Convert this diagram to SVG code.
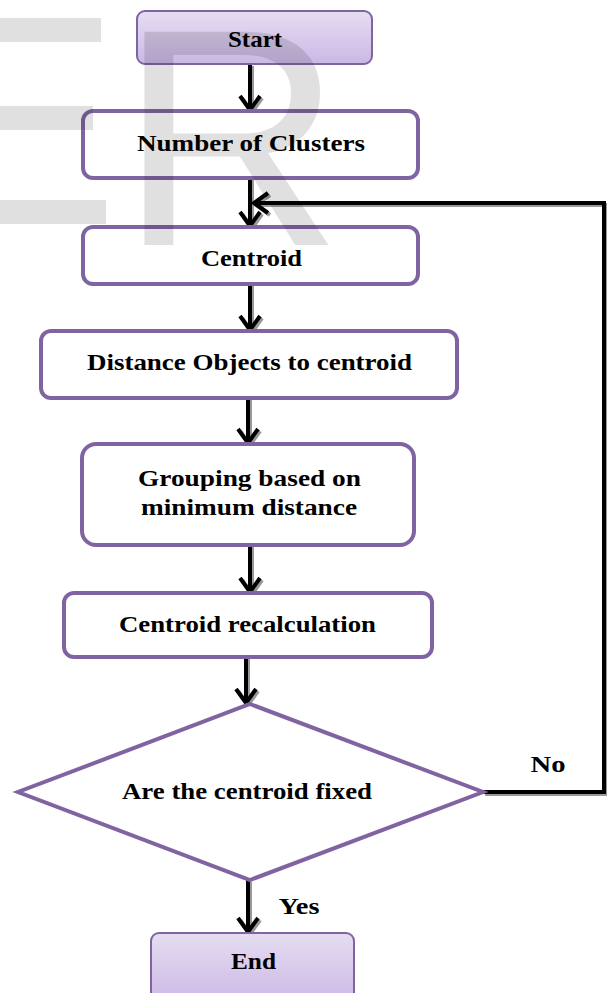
<svg xmlns="http://www.w3.org/2000/svg" width="607" height="993" viewBox="0 0 607 993">
<defs>
<linearGradient id="lav" x1="0" y1="0" x2="0" y2="1">
<stop offset="0" stop-color="#e6ddf2"/>
<stop offset="1" stop-color="#cbb8e5"/>
</linearGradient>
<marker id="ah" viewBox="0 0 20 24" refX="17" refY="12" markerWidth="20" markerHeight="24" markerUnits="userSpaceOnUse" orient="auto">
<path d="M3,2 L17,12 L3,22" fill="none" stroke="#000" stroke-width="4" stroke-linejoin="miter"/>
</marker>
<marker id="ahs" viewBox="0 0 20 24" refX="17" refY="12" markerWidth="20" markerHeight="24" markerUnits="userSpaceOnUse" orient="auto">
<path d="M3,2 L17,12 L3,22" fill="none" stroke="#999" stroke-width="4"/>
</marker>
</defs>
<style>
.box{fill:#fff;stroke:#8064a2;stroke-width:4}
.term{fill:url(#lav);stroke:#8064a2;stroke-width:2}
.t{font-family:"Liberation Serif","Times New Roman",serif;font-weight:bold;font-size:24px;fill:#000;text-anchor:middle}
.c{fill:none;stroke:#000;stroke-width:4;marker-end:url(#ah)}
.s{fill:none;stroke:#999;stroke-width:4;marker-end:url(#ahs)}
.wm{fill:#000;fill-opacity:0.12}
</style>
<rect width="607" height="993" fill="#fff"/>
<g id="connectors">
<g transform="translate(2,2)">
<path class="s" d="M250,64 V110"/>
<path class="s" d="M250,178 V226"/>
<path class="s" d="M250,284 V330"/>
<path class="s" d="M248,398 V443"/>
<path class="s" d="M250,545 V592"/>
<path class="s" d="M246,657 V703"/>
<path class="s" d="M483,792 H604 V203 H254"/>
<path class="s" d="M248,880 V932"/>
</g>
<path class="c" d="M250,64 V110"/>
<path class="c" d="M250,178 V226"/>
<path class="c" d="M250,284 V330"/>
<path class="c" d="M248,398 V443"/>
<path class="c" d="M250,545 V592"/>
<path class="c" d="M246,657 V703"/>
<path class="c" d="M483,792 H604 V203 H254" stroke-width="5"/>
<path class="c" d="M248,880 V932"/>
<text class="t" x="548" y="772" textLength="35" lengthAdjust="spacingAndGlyphs">No</text>
<text class="t" x="299" y="914" textLength="41" lengthAdjust="spacingAndGlyphs">Yes</text>
</g>
<g id="start">
<rect class="term" x="137" y="11" width="235" height="53" rx="8"/>
<text class="t" x="255" y="47" textLength="54" lengthAdjust="spacingAndGlyphs">Start</text>
</g>
<g id="num">
<rect class="box" x="83" y="111" width="335" height="67" rx="10"/>
<text class="t" x="251" y="151" textLength="228" lengthAdjust="spacingAndGlyphs">Number of Clusters</text>
</g>
<g id="centroid">
<rect class="box" x="83" y="227" width="335" height="57" rx="10"/>
<text class="t" x="251.5" y="266" textLength="101" lengthAdjust="spacingAndGlyphs">Centroid</text>
</g>
<g id="distance">
<rect class="box" x="41" y="331" width="416" height="67" rx="10"/>
<text class="t" x="249.5" y="370" textLength="325" lengthAdjust="spacingAndGlyphs">Distance Objects to centroid</text>
</g>
<g id="grouping">
<rect class="box" x="82" y="444" width="332" height="101" rx="14"/>
<text class="t" x="249.5" y="486" textLength="223" lengthAdjust="spacingAndGlyphs">Grouping based on</text>
<text class="t" x="249" y="515" textLength="216" lengthAdjust="spacingAndGlyphs">minimum distance</text>
</g>
<g id="recalc">
<rect class="box" x="64" y="593" width="368" height="64" rx="10"/>
<text class="t" x="247.5" y="632" textLength="257" lengthAdjust="spacingAndGlyphs">Centroid recalculation</text>
</g>
<g id="decision">
<polygon class="box" points="250,704 483,792 250,880 18,792"/>
<text class="t" x="247" y="799" textLength="250" lengthAdjust="spacingAndGlyphs">Are the centroid fixed</text>
</g>
<g id="end">
<rect class="term" x="151" y="933" width="203" height="70" rx="8"/>
<text class="t" x="253.5" y="969" textLength="45" lengthAdjust="spacingAndGlyphs">End</text>
</g>
<g id="watermark">
<rect class="wm" x="0" y="18" width="101" height="24"/>
<rect class="wm" x="0" y="106" width="93" height="24"/>
<rect class="wm" x="0" y="200" width="106" height="24"/>
<text x="119" y="245" font-family="Liberation Sans, Arial, sans-serif" font-size="310" class="wm">R</text>
</g>
</svg>
